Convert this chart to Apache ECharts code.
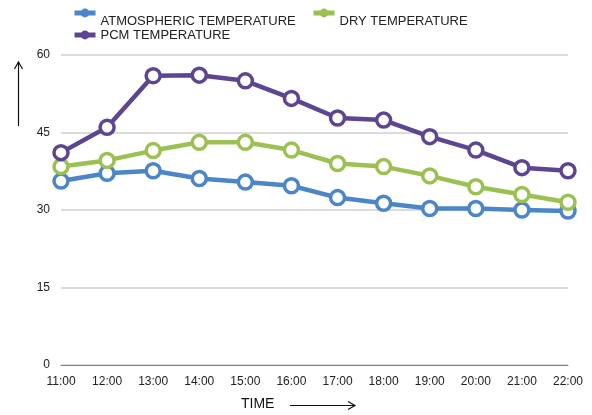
<!DOCTYPE html>
<html>
<head>
<meta charset="utf-8">
<script src="https://cdn.jsdelivr.net/npm/echarts@6/dist/echarts.min.js"></script>
<style>html,body{margin:0;padding:0;background:#fff}#c{width:592px;height:415px}</style>
</head>
<body>
<div id="c"></div>
<script>
const categories = ['11:00','12:00','13:00','14:00','15:00','16:00','17:00','18:00','19:00','20:00','21:00','22:00'];
const atmospheric = [35.6, 37.1, 37.6, 36.1, 35.4, 34.7, 32.4, 31.3, 30.3, 30.3, 30.0, 29.8];
const dry = [38.4, 39.6, 41.5, 43.1, 43.1, 41.6, 39.0, 38.4, 36.6, 34.5, 33.0, 31.5];
const pcm = [41.1, 46.0, 56.0, 56.1, 55.0, 51.6, 47.8, 47.4, 44.2, 41.6, 38.2, 37.6];
const seriesNames = ['ATMOSPHERIC TEMPERATURE', 'DRY TEMPERATURE', 'PCM TEMPERATURE'];
const colors = ['#4A86C8', '#9BC153', '#5E4592'];

const chart = echarts.init(document.getElementById('c'));
const font = 'Liberation Sans, Arial, sans-serif';
function mk(name, data, color) {
  return {
    name, type: 'line', data,
    symbol: 'circle', symbolSize: 14,
    lineStyle: { width: 4.5, color },
    itemStyle: { color: '#fff', borderColor: color, borderWidth: 3.5 },
    emphasis: { disabled: true }
  };
}
function leg(i, left, top, shiftDown) {
  return {
    left, top, padding: 0, orient: 'horizontal', itemWidth: 21, itemHeight: 11, itemGap: 8,
    selectedMode: false,
    formatter: shiftDown ? (n => '\n' + n) : (n => n),
    data: [{ name: seriesNames[i], itemStyle: { color: colors[i], borderColor: colors[i], borderWidth: 0 }, lineStyle: { width: 5, color: colors[i] } }],
    textStyle: { fontFamily: font, fontSize: 13, color: '#222', lineHeight: 16 }
  };
}
chart.setOption({
  animation: false,
  backgroundColor: '#fff',
  color: colors,
  legend: [
    leg(0, 72, -3, true),
    leg(1, 311, -3, true),
    leg(2, 72, 27, false)
  ],
  grid: { left: 61, right: 24, top: 55, bottom: 50, containLabel: false },
  xAxis: {
    type: 'category', data: categories, boundaryGap: false,
    axisLine: { lineStyle: { color: '#868686', width: 1 } },
    axisTick: { show: false },
    axisLabel: { fontFamily: font, fontSize: 12, color: '#222', margin: 11 },
    splitLine: { show: false }
  },
  yAxis: {
    type: 'value', min: 0, max: 60, interval: 15,
    axisLine: { show: false }, axisTick: { show: false },
    axisLabel: { fontFamily: font, fontSize: 12, color: '#222', margin: 11 },
    splitLine: { lineStyle: { color: '#CFCFCF', width: 1.5 } }
  },
  series: [mk(seriesNames[0], atmospheric, colors[0]), mk(seriesNames[1], dry, colors[1]), mk(seriesNames[2], pcm, colors[2])],
  graphic: [
    { type: 'text', left: 241, top: 397, style: { text: 'TIME', fontFamily: font, fontSize: 14, fill: '#111' } },
    { type: 'line', shape: { x1: 290, y1: 405.5, x2: 355, y2: 405.5 }, style: { stroke: '#111', lineWidth: 1.2 } },
    { type: 'polyline', shape: { points: [[348, 401.5], [355, 405.5], [348, 409.5]] }, style: { stroke: '#111', lineWidth: 1.2, fill: null } },
    { type: 'line', shape: { x1: 18.5, y1: 126, x2: 18.5, y2: 62 }, style: { stroke: '#111', lineWidth: 1.2 } },
    { type: 'polyline', shape: { points: [[14.5, 69], [18.5, 62], [22.5, 69]] }, style: { stroke: '#111', lineWidth: 1.2, fill: null } }
  ]
});
</script>
</body>
</html>
